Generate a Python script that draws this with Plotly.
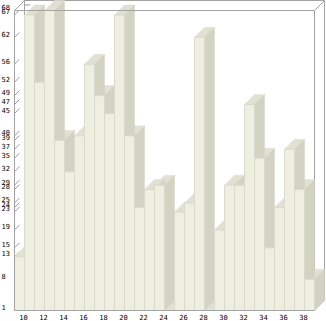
import plotly.graph_objects as go

# Columns: category on the x axis and the height of each column
categories = list(range(10, 40))
values = [13, 67, 52, 68, 39, 32, 40, 56, 49, 45,
          67, 40, 24, 28, 29, 1, 23, 25, 62, 1,
          19, 29, 29, 47, 35, 15, 24, 37, 28, 8]
x_tick_values = list(range(10, 39, 2))
x_tick_labels = [str(v) for v in x_tick_values]

# Value axis runs from the floor value to the tallest column
Y_MIN, Y_MAX = 1, 68

# Pixel geometry of the pseudo-3D box
W, H = 326, 321
LEFT = 14           # left margin in px
BOTTOM = 10         # bottom margin in px
PX_PER_X = 10.0     # one category = 10 px
FRONT_H = 300.0     # front face height in px
DEPTH = 10.0        # depth offset in px (right and up)
ky = FRONT_H / (Y_MAX - Y_MIN)
dx = DEPTH / PX_PER_X
dy = DEPTH / ky

x_lo = categories[0] - 0.5
x_hi = categories[-1] + 0.5
x_range = [x_lo - 0.5 / PX_PER_X, x_lo + (W - LEFT - 0.5) / PX_PER_X]
plot_h = H - BOTTOM
y_range = [Y_MIN - 0.5 / ky, Y_MIN + (plot_h - 0.5) / ky]

FRONT = "#EEEEE1"
SIDE = "#D3D3C4"
TOP = "#E1E1D3"
EDGE = "#DADACB"
FRAME = "#A3A3A3"


def poly(points_list):
    xs, ys = [], []
    for pts in points_list:
        for px, py in pts:
            xs.append(px)
            ys.append(py)
        xs.append(pts[0][0])
        ys.append(pts[0][1])
        xs.append(None)
        ys.append(None)
    return xs, ys


def segs(seg_list):
    xs, ys = [], []
    for (a, b), (c, d) in seg_list:
        xs += [a, c, None]
        ys += [b, d, None]
    return xs, ys


fronts, tops, sides = [], [], []
for c, v in zip(categories, values):
    x0, x1 = c - 0.5, c + 0.5
    fronts.append([(x0, Y_MIN), (x1, Y_MIN), (x1, v), (x0, v)])
    tops.append([(x0, v), (x1, v), (x1 + dx, v + dy), (x0 + dx, v + dy)])
    sides.append([(x1, Y_MIN), (x1 + dx, Y_MIN + dy), (x1 + dx, v + dy), (x1, v)])

tick_vals = sorted(set(values))
tick_text = [f"{v}\u00a0" if v < 10 else str(v) for v in tick_vals]

# Box edges behind the columns
back_lines = [
    ((x_lo + dx, Y_MIN + dy), (x_lo + dx, Y_MAX + dy)),
    ((x_lo + dx, Y_MAX + dy), (x_hi + dx, Y_MAX + dy)),
    ((x_hi + dx, Y_MAX + dy), (x_hi + dx, Y_MIN + dy)),
    ((x_hi, Y_MAX), (x_hi + dx, Y_MAX + dy)),
    ((x_hi, Y_MIN), (x_hi + dx, Y_MIN + dy)),
    ((x_hi, Y_MIN), (x_hi, Y_MAX)),
]
# Value ticks on the left wall and short marks on the back wall
wall_ticks = [((x_lo, v), (x_lo + dx / 2, v + dy / 2)) for v in tick_vals]
wall_ticks += [((x_lo + dx, v + dy), (x_lo + dx * 1.6, v + dy)) for v in tick_vals]
# Front edges drawn over the columns
front_lines = [
    ((x_lo, Y_MIN), (x_lo, Y_MAX)),
    ((x_lo, Y_MAX), (x_hi, Y_MAX)),
    ((x_lo, Y_MIN), (x_hi, Y_MIN)),
    ((x_lo, Y_MAX), (x_lo + dx, Y_MAX + dy)),
]

fig = go.Figure()

bx, by = segs(back_lines)
fig.add_trace(go.Scatter(x=bx, y=by, mode="lines",
                         line=dict(color=FRAME, width=1)))
tx, ty = segs(wall_ticks)
fig.add_trace(go.Scatter(x=tx, y=ty, mode="lines",
                         line=dict(color="#9A9A9A", width=1)))

px_, py_ = poly(tops)
fig.add_trace(go.Scatter(x=px_, y=py_, mode="lines", fill="toself",
                         fillcolor=TOP, line=dict(color=TOP, width=0.5)))
px_, py_ = poly(sides)
fig.add_trace(go.Scatter(x=px_, y=py_, mode="lines", fill="toself",
                         fillcolor=SIDE, line=dict(color=SIDE, width=0.5)))
px_, py_ = poly(fronts)
fig.add_trace(go.Scatter(x=px_, y=py_, mode="lines", fill="toself",
                         fillcolor=FRONT, line=dict(color=EDGE, width=1)))

fx, fy = segs(front_lines)
fig.add_trace(go.Scatter(x=fx, y=fy, mode="lines",
                         line=dict(color=FRAME, width=1)))

fig.update_traces(showlegend=False, hoverinfo="skip")

tick_font = dict(family="DejaVu Sans Mono", size=7, color="#000000")
fig.update_layout(
    width=W, height=H,
    margin=dict(l=LEFT, r=0, t=0, b=BOTTOM),
    paper_bgcolor="white", plot_bgcolor="white",
    xaxis=dict(range=x_range, showgrid=False, zeroline=False, showline=False,
               tickmode="array", tickvals=x_tick_values, ticktext=x_tick_labels,
               ticks="", tickfont=tick_font, ticklabelshift=4,
               ticklabelstandoff=1),
    yaxis=dict(range=y_range, showgrid=False, zeroline=False, showline=False,
               tickmode="array", tickvals=tick_vals, ticktext=tick_text,
               ticks="", tickfont=tick_font, ticklabelshift=-3,
               ticklabelstandoff=3),
)

fig.write_html("out.html")
